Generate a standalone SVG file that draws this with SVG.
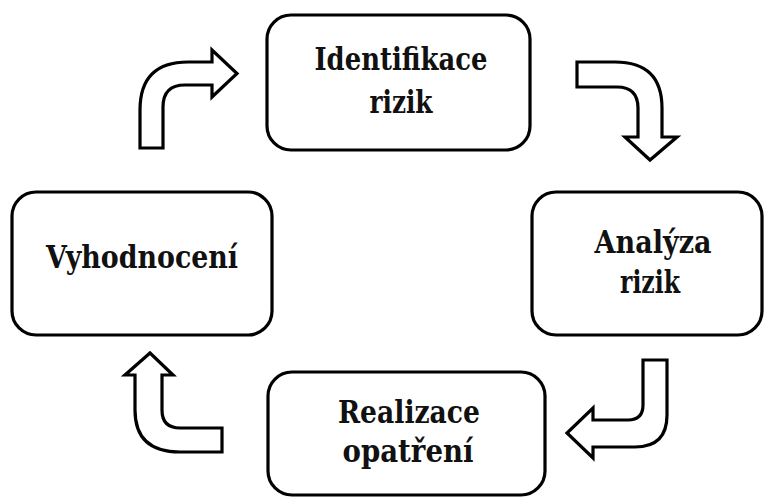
<svg xmlns="http://www.w3.org/2000/svg" width="765" height="497" viewBox="0 0 765 497">
<style>
.box{fill:#fff;stroke:#000;stroke-width:3.2}
.arr{fill:#fff;stroke:#000;stroke-width:3.2;stroke-linejoin:miter}
.t{font-family:'DejaVu Serif',serif;font-weight:700;font-size:32px;fill:#111;text-anchor:middle}
</style>
<rect width="765" height="497" fill="#fff"/>
<g id="node-identifikace">
<rect class="box" x="267" y="15" width="263" height="135" rx="24"/>
<text class="t" x="401" y="70" textLength="173" lengthAdjust="spacingAndGlyphs">Identifikace</text>
<text class="t" x="401" y="113" textLength="63" lengthAdjust="spacingAndGlyphs">rizik</text>
</g>
<g id="node-analyza">
<rect class="box" x="532" y="192" width="230" height="143" rx="24"/>
<text class="t" x="653" y="253" textLength="117" lengthAdjust="spacingAndGlyphs">Analýza</text>
<text class="t" x="650" y="293" textLength="60" lengthAdjust="spacingAndGlyphs">rizik</text>
</g>
<g id="node-realizace">
<rect class="box" x="268" y="372" width="277" height="123" rx="24"/>
<text class="t" x="409" y="423" textLength="142" lengthAdjust="spacingAndGlyphs">Realizace</text>
<text class="t" x="408" y="462" textLength="131" lengthAdjust="spacingAndGlyphs">opatření</text>
</g>
<g id="node-vyhodnoceni">
<rect class="box" x="12" y="192" width="260" height="143" rx="24"/>
<text class="t" x="142" y="268" textLength="192" lengthAdjust="spacingAndGlyphs">Vyhodnocení</text>
</g>
<g id="connectors">
<path class="arr" d="M140,148 L140,110 Q140,62 188,62 L212,62 L212,50 L237,73.5 L212,97 L212,85 L185,85 Q163,85 163,107 L163,148 Z"/>
<path class="arr" d="M577,62 L615,62 Q662,62 662,108 L662,137 L677,137 L650,160 L625,137 L638,137 L638,108 Q638,87 617,87 L577,87 Z"/>
<path class="arr" d="M643,360 L667,360 L667,415 Q667,447 635,447 L593,447 L593,458 L567,433 L593,408 L593,420 L628,420 Q643,420 643,405 Z"/>
<path class="arr" d="M150,353 L173,375 L162,375 L162,410 Q162,428 180,428 L222,428 L222,452 L180,452 Q135,452 135,410 L135,375 L125,375 Z"/>
</g>
</svg>
